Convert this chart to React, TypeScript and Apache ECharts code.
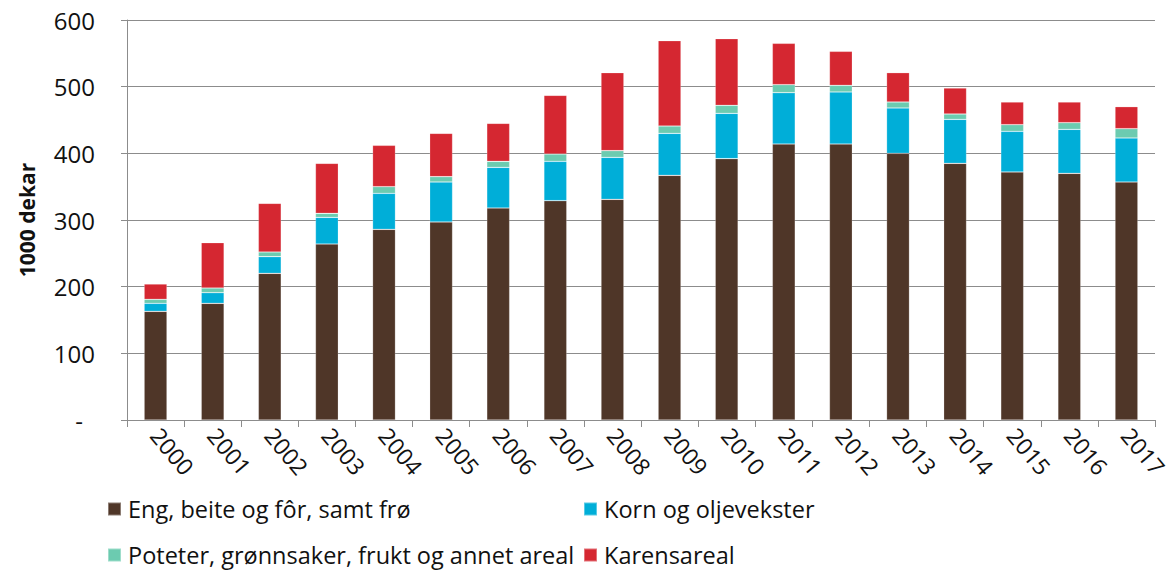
import React, { useEffect, useRef } from "react";
import * as echarts from "echarts";

const years = ["2000","2001","2002","2003","2004","2005","2006","2007","2008","2009","2010","2011","2012","2013","2014","2015","2016","2017"];
const eng = [163,175,220,264,286,297,318,329,331,367,392,414,414,400,385,372,370,357];
const korn = [12,16,25,40,54,60,61,59,63,63,68,77,78,68,66,61,66,66];
const poteter = [6,7,7,6,10,8,9,11,10,11,12,12,10,9,8,10,10,14];
const karens = [23,68,73,75,62,65,57,88,117,128,100,62,51,44,39,34,31,33];

const names = [
  "Eng, beite og fôr, samt frø",
  "Korn og oljevekster",
  "Poteter, grønnsaker, frukt og annet areal",
  "Karensareal",
];
const colors = ["#4f3628", "#00aed8", "#6ccbb0", "#d52731"];
const yTicks = [0, 100, 200, 300, 400, 500, 600];

const FONT = "Open Sans";

export default function App() {
  const ref = useRef<HTMLDivElement>(null);
  useEffect(() => {
    if (!ref.current) return;
    const chart = echarts.init(ref.current, null, { renderer: "svg" });
    const dataSets = [eng, korn, poteter, karens];
    const legendPos = [
      { left: 107, top: 497 },
      { left: 583, top: 497 },
      { left: 107, top: 543 },
      { left: 583, top: 543 },
    ];
    chart.setOption({
      animation: false,
      textStyle: { fontFamily: FONT },
      grid: { left: 127, right: 18, top: 20, bottom: 154, containLabel: false },
      legend: names.map((n, i) => ({
        data: [n],
        left: legendPos[i].left,
        top: legendPos[i].top,
        itemWidth: 13,
        itemHeight: 13,
        itemGap: 0,
        padding: 0,
        icon: "rect",
        textStyle: { fontFamily: FONT, fontSize: 23.5, color: "#111", padding: [0, 0, 0, 2] },
      })),
      xAxis: {
        type: "category",
        data: years,
        axisLine: { lineStyle: { color: "#8c8c8c", width: 1 } },
        axisTick: { show: true, length: 7, lineStyle: { color: "#8c8c8c" } },
        axisLabel: {
          rotate: -50,
          interval: 0,
          fontFamily: FONT,
          fontSize: 23,
          color: "#111",
          margin: 11,
        },
      },
      yAxis: {
        type: "value",
        min: 0,
        max: 600,
        interval: 100,
        name: "1000 dekar",
        nameLocation: "middle",
        nameGap: 90,
        nameTextStyle: { fontFamily: FONT, fontSize: 21, fontWeight: "bold", color: "#111" },
        axisLine: { show: true, lineStyle: { color: "#8c8c8c" } },
        axisTick: { show: true, length: 6, lineStyle: { color: "#8c8c8c" } },
        splitLine: { lineStyle: { color: "#8c8c8c", width: 1 } },
        axisLabel: {
          fontFamily: FONT,
          fontSize: 24,
          color: "#111",
          margin: 32,
          formatter: (v: number) => (v === 0 ? "{d|-}" : String(v)),
          rich: { d: { fontFamily: FONT, fontSize: 24, color: "#111", padding: [0, 12, 0, 0] } },
          customValues: yTicks,
        },
      },
      series: names.map((n, i) => ({
        name: n,
        type: "bar",
        stack: "total",
        data: dataSets[i],
        barWidth: "40%",
        itemStyle: { color: colors[i], borderColor: "rgba(255,255,255,0.35)", borderWidth: 0.6 },
      })),
    });
    return () => chart.dispose();
  }, []);
  return <div ref={ref} style={{ width: 1173, height: 574, position: "absolute", left: 0, top: 0 }} />;
}
